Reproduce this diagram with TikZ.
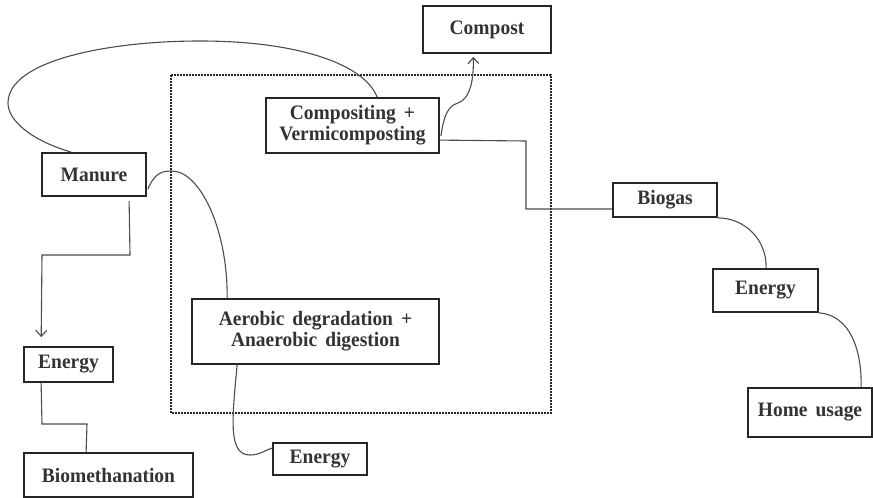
\documentclass[tikz,border=0pt]{standalone}
\usepackage{fontspec}
\setmainfont[FakeStretch=0.95]{Liberation Serif}
\usetikzlibrary{calc,arrows.meta}
\newcommand\wsp{\hspace{0.39em}}
\begin{document}
\begin{tikzpicture}[x=1pt,y=-1pt,
  box/.style={draw=black!85, line width=1.8pt, rectangle, inner sep=0pt,
    align=center, text=black!80,
    font=\fontsize{20.5}{21}\selectfont\bfseries},
  link/.style={draw=black!70, line width=1.1pt},
  tip/.style={-{Straight Barb[length=6pt,width=11pt]}}]
\useasboundingbox (0,0) rectangle (873,498);

% outer dotted frame
\draw[black!85, line width=1.8pt, dash pattern=on 1.6pt off 1.4pt]
  (171,75) rectangle (551,413);

% boxes
\node[box, minimum width=128pt, minimum height=47pt] (compost) at (487,29.5) {Compost};
\node[box, minimum width=173pt, minimum height=55pt] (compv) at (352.5,125.5)
  {Compositing\wsp+\\Vermicomposting};
\node[box, minimum width=104pt, minimum height=43pt] (manure) at (94,174.5) {Manure};
\node[box, minimum width=104pt, minimum height=34pt] (biogas) at (665,200) {Biogas};
\node[box, minimum width=105pt, minimum height=43pt] (energyR) at (765.5,290.5) {Energy};
\node[box, minimum width=124pt, minimum height=49pt] (home) at (810,412.5) {Home\wsp usage};
\node[box, minimum width=247pt, minimum height=65pt] (aerobic) at (315.5,331.5)
  {Aerobic\wsp degradation\wsp+\\Anaerobic\wsp digestion};
\node[box, minimum width=89pt, minimum height=35pt] (energyL) at (68.5,364.5) {Energy};
\node[box, minimum width=169pt, minimum height=44pt] (biometh) at (108.5,475) {Biomethanation};
\node[box, minimum width=94pt, minimum height=32pt] (energyB) at (320,459) {Energy};

% connectors
\draw[link] ($(manure.north west)+(30,0)$)
  .. controls (30,140) and (8,120) .. (8,103)
  .. controls (8,60) and (110,41) .. (200,41)
  .. controls (300,41) and (365,65) .. ($(compv.north west)+(112,0)$);

\draw[link] ($(manure.north east)+(1,37)$)
  .. controls (155,172) and (163,171) .. (172,171)
  .. controls (200,171) and (228,230) .. ($(aerobic.north west)+(36,0)$);

\draw[link, tip, shorten >=9pt] ($(manure.south west)+(88,4)$) -- (130,255) -- (42,255)
  -- ($(energyL.north west)+(18,0)$);

\draw[link] ($(energyL.south west)+(18,0)$) -- (42,424) -- (87,424)
  -- ($(biometh.north west)+(63,0)$);

\draw[link] ($(aerobic.south west)+(46,0)$)
  .. controls (232,420) and (228,455) .. (250,455)
  .. controls (260,455) and (265,450) .. ($(energyB.north west)+(0,6)$);

\draw[link] ($(compv.north east)+(0,43)$) -- (526,141) -- (526,209)
  -- ($(biogas.west)+(0,9)$);

\draw[link, tip, shorten >=3pt] ($(compv.north east)+(1,39)$)
  .. controls (444,115) and (448,106) .. (458,103)
  .. controls (470,99) and (474,80) .. ($(compost.south west)+(51,0)$);

\draw[link] (biogas.south east)
  .. controls (745,218) and (767,240) .. ($(energyR.north west)+(54,0)$);

\draw[link] (energyR.south east)
  .. controls (850,315) and (862,350) .. ($(home.north west)+(114,0)$);
\end{tikzpicture}
\end{document}
